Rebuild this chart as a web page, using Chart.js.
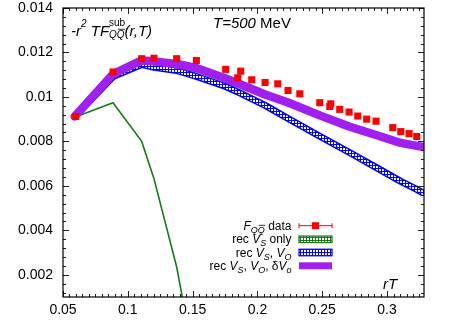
<!DOCTYPE html>
<html lang="en">
<head>
<meta charset="UTF-8">
<title>-r^2 T F_QQ sub, T=500 MeV</title>
<style>
  html, body { margin: 0; padding: 0; background: #fff; }
  #wrap { width: 469px; height: 328px; }
</style>
<script src="https://cdn.jsdelivr.net/npm/chart.js"></script>
</head>
<body>
<div id="wrap"><canvas id="chart" width="469" height="328"></canvas></div>
<script>
// lattice points F_QQbar
const rTData = [0.0598, 0.0886, 0.1107, 0.1202, 0.1377, 0.1529, 0.1755, 0.1848, 0.1871, 0.1956,
                0.2059, 0.2157, 0.2236, 0.2327, 0.2481, 0.2558, 0.2566, 0.2635, 0.2707, 0.2774,
                0.2843, 0.2915, 0.3044, 0.3106, 0.3170, 0.3229];
const fData  = [0.00912, 0.01112, 0.01172, 0.01174, 0.01172, 0.01164, 0.01124, 0.01086, 0.01116, 0.01077,
                0.01065, 0.01059, 0.01029, 0.01014, 0.00974, 0.00957, 0.00969, 0.00944, 0.00932, 0.00914,
                0.00900, 0.00891, 0.00862, 0.00844, 0.00835, 0.00822];

// reconstructed curves
const rTModel  = [0.059, 0.0886, 0.1107, 0.1202, 0.1377, 0.1529, 0.1755, 0.1871, 0.2059, 0.2236,
                  0.2481, 0.2707, 0.2915, 0.3106, 0.3229, 0.3285];
const recVsVoDv = [0.00912, 0.01103, 0.01164, 0.01160, 0.01148, 0.01130, 0.01083, 0.01056, 0.01011, 0.00975,
                   0.00917, 0.00867, 0.00829, 0.00793, 0.00780, 0.00775];
const recVsVo   = [0.00912, 0.01092, 0.01146, 0.01133, 0.01119, 0.01092, 0.01047, 0.01016, 0.00962, 0.00903,
                   0.00823, 0.00751, 0.00683, 0.00620, 0.00584, 0.00566];
const rTGreen   = [0.059, 0.0886, 0.1107, 0.1202, 0.1377, 0.1529];
const recVsOnly = [0.00909, 0.00974, 0.00800, 0.00632, 0.00235, -0.0024];

const xTicks = [0.05, 0.1, 0.15, 0.2, 0.25, 0.3];
const yTicks = [0.002, 0.004, 0.006, 0.008, 0.01, 0.012, 0.014];

const FONT = '"Liberation Sans", Arial, sans-serif';
const fmt = v => String(+v.toFixed(4));
const pts = (xs, ys) => xs.map((x, i) => ({ x: x, y: ys[i] }));

function hatch(color) {
  const c = document.createElement('canvas');
  c.width = 3; c.height = 3;
  const g = c.getContext('2d');
  g.fillStyle = '#fff'; g.fillRect(0, 0, 3, 3);
  g.fillStyle = color;
  g.fillRect(0, 0, 3, 1);
  g.fillRect(0, 0, 1, 3);
  return g.createPattern(c, 'repeat');
}
const blueHatch = hatch('#0000ff');
const greenHatch = hatch('#1a7a1a');

// text with italic / sub / superscript pieces
function rich(ctx, parts, x, y, align) {
  const widths = parts.map(p => {
    ctx.font = (p.i ? 'italic ' : '') + p.s + 'px ' + FONT;
    return ctx.measureText(p.t).width;
  });
  let total = 0;
  parts.forEach((p, k) => { if (!p.noAdv) total += widths[k]; });
  let cx = align === 'right' ? x - total : x;
  ctx.fillStyle = '#000';
  ctx.textBaseline = 'alphabetic';
  ctx.textAlign = 'left';
  parts.forEach((p, k) => {
    ctx.font = (p.i ? 'italic ' : '') + p.s + 'px ' + FONT;
    const yy = y + (p.dy || 0);
    ctx.fillText(p.t, cx, yy);
    if (p.bar) {
      ctx.strokeStyle = '#000'; ctx.lineWidth = 0.8;
      ctx.beginPath();
      ctx.moveTo(cx + 1, yy - p.s * 0.82);
      ctx.lineTo(cx + widths[k] + 0.5, yy - p.s * 0.82);
      ctx.stroke();
    }
    if (!p.noAdv) cx += widths[k];
  });
}

const decor = {
  id: 'decor',
  afterDraw(chart) {
    const ctx = chart.ctx;
    const a = chart.chartArea;
    const xs = chart.scales.x, ys = chart.scales.y;
    ctx.save();

    // inward ticks on all four sides
    ctx.strokeStyle = '#222';
    ctx.lineWidth = 1;
    ctx.beginPath();
    for (let k = 0; k <= 60; k++) {
      const v = 0.05 + k * 0.005;
      if (v > xs.max + 1e-9) break;
      const px = Math.round(xs.getPixelForValue(v)) + 0.5;
      const len = k % 10 === 0 ? 6 : 3;
      ctx.moveTo(px, a.bottom); ctx.lineTo(px, a.bottom - len);
      ctx.moveTo(px, a.top); ctx.lineTo(px, a.top + len);
    }
    for (let k = 3; k <= 35; k++) {
      const v = k * 0.0004;
      const py = Math.round(ys.getPixelForValue(v)) + 0.5;
      const len = k % 5 === 0 ? 6 : 3;
      ctx.moveTo(a.left, py); ctx.lineTo(a.left + len, py);
      ctx.moveTo(a.right, py); ctx.lineTo(a.right - len, py);
    }
    ctx.stroke();

    // frame
    ctx.strokeStyle = '#000';
    ctx.lineWidth = 1.2;
    ctx.strokeRect(a.left, a.top, a.right - a.left, a.bottom - a.top);

    // annotations
    rich(ctx, [
      { t: '-r', s: 15, i: true },
      { t: '2', s: 10, i: true, dy: -9 },
      { t: ' TF', s: 15, i: true },
      { t: 'sub', s: 10, dy: -10, noAdv: true },
      { t: 'Q', s: 10, i: true, dy: 2 },
      { t: 'Q', s: 10, i: true, dy: 2, bar: true },
      { t: '(r,T)', s: 15, i: true }
    ], 71, 35.5, 'left');
    rich(ctx, [
      { t: 'T=500', s: 15, i: true },
      { t: ' MeV', s: 15 }
    ], 213, 28, 'left');
    rich(ctx, [{ t: 'rT', s: 15, i: true }], 383, 289, 'left');

    // legend
    const lx = 291.5, s0 = 299, s1 = 332;
    const rows = [225.7, 239.3, 252.5, 265.8];
    rich(ctx, [
      { t: 'F', s: 12, i: true },
      { t: 'Q', s: 9, i: true, dy: 3 },
      { t: 'Q', s: 9, i: true, dy: 3, bar: true },
      { t: ' data', s: 12 }
    ], lx, rows[0] + 4, 'right');
    rich(ctx, [
      { t: 'rec ', s: 12 }, { t: 'V', s: 12, i: true }, { t: 'S', s: 9, i: true, dy: 3 },
      { t: ' only', s: 12 }
    ], lx, rows[1] + 4, 'right');
    rich(ctx, [
      { t: 'rec ', s: 12 }, { t: 'V', s: 12, i: true }, { t: 'S', s: 9, i: true, dy: 3 },
      { t: ', ', s: 12 }, { t: 'V', s: 12, i: true }, { t: 'O', s: 9, i: true, dy: 3 }
    ], lx, rows[2] + 4, 'right');
    rich(ctx, [
      { t: 'rec ', s: 12 }, { t: 'V', s: 12, i: true }, { t: 'S', s: 9, i: true, dy: 3 },
      { t: ', ', s: 12 }, { t: 'V', s: 12, i: true }, { t: 'O', s: 9, i: true, dy: 3 },
      { t: ', ', s: 12 }, { t: 'δ', s: 12 }, { t: 'V', s: 12, i: true }, { t: 'o', s: 9, i: true, dy: 3 }
    ], lx, rows[3] + 4, 'right');

    // legend samples
    ctx.strokeStyle = '#ff0000'; ctx.lineWidth = 1;
    ctx.beginPath();
    ctx.moveTo(s0, rows[0]); ctx.lineTo(s1, rows[0]);
    ctx.moveTo(s0, rows[0] - 2.5); ctx.lineTo(s0, rows[0] + 2.5);
    ctx.moveTo(s1, rows[0] - 2.5); ctx.lineTo(s1, rows[0] + 2.5);
    ctx.stroke();
    ctx.fillStyle = '#ff0000';
    ctx.fillRect((s0 + s1) / 2 - 3.5, rows[0] - 3.5, 7, 7);

    ctx.fillStyle = greenHatch; ctx.fillRect(s0, rows[1] - 3.3, s1 - s0, 6.6);
    ctx.strokeStyle = '#1a7a1a'; ctx.lineWidth = 1.2;
    ctx.strokeRect(s0, rows[1] - 3.3, s1 - s0, 6.6);
    ctx.fillStyle = blueHatch; ctx.fillRect(s0, rows[2] - 3.3, s1 - s0, 6.6);
    ctx.strokeStyle = '#0000ff';
    ctx.strokeRect(s0, rows[2] - 3.3, s1 - s0, 6.6);
    ctx.fillStyle = '#a020f0';
    ctx.fillRect(s0, rows[3] - 3.5, s1 - s0, 7);

    ctx.restore();
  }
};

new Chart(document.getElementById('chart'), {
  type: 'line',
  data: {
    datasets: [
      {
        label: 'F data',
        data: pts(rTData, fData),
        showLine: false,
        pointStyle: 'rect',
        pointRadius: 5,
        pointBackgroundColor: '#ff0000',
        pointBorderWidth: 0
      },
      {
        label: 'rec Vs, Vo, dVo',
        data: pts(rTModel, recVsVoDv),
        borderColor: '#a020f0',
        borderWidth: 8.5,
        borderJoinStyle: 'round',
        borderCapStyle: 'round',
        pointRadius: 0
      },
      {
        label: 'rec Vs, Vo (pattern)',
        data: pts(rTModel, recVsVo),
        borderColor: blueHatch,
        borderWidth: 4,
        borderJoinStyle: 'round',
        pointRadius: 0
      },
      {
        label: 'rec Vs, Vo',
        data: pts(rTModel, recVsVo),
        borderColor: '#0000ff',
        borderWidth: 7,
        borderJoinStyle: 'round',
        pointRadius: 0
      },
      {
        label: 'rec Vs only',
        data: pts(rTGreen, recVsOnly),
        borderColor: '#1a7a1a',
        borderWidth: 1.6,
        pointRadius: 0
      }
    ]
  },
  options: {
    responsive: false,
    animation: false,
    devicePixelRatio: 1,
    layout: { padding: { top: 0, right: 45, left: 0, bottom: 0 } },
    plugins: { legend: { display: false }, tooltip: { enabled: false } },
    scales: {
      x: {
        type: 'linear',
        min: 0.05,
        max: 0.3285,
        afterBuildTicks: s => { s.ticks = xTicks.map(v => ({ value: v })); },
        afterFit: s => { s.height = 31; s.paddingLeft = 0; s.paddingRight = 0; },
        grid: { display: false, drawTicks: false },
        border: { display: false },
        ticks: { autoSkip: false, maxRotation: 0, padding: 5, color: '#000',
                 font: { family: FONT, size: 14 }, callback: v => fmt(v) }
      },
      y: {
        type: 'linear',
        min: 0.001,
        max: 0.014,
        afterBuildTicks: s => { s.ticks = yTicks.map(v => ({ value: v })); },
        afterFit: s => { s.width = 63; s.paddingTop = 8; s.paddingBottom = 0; },
        grid: { display: false, drawTicks: false },
        border: { display: false },
        ticks: { autoSkip: false, padding: 10, color: '#000',
                 font: { family: FONT, size: 14 }, callback: v => fmt(v) }
      }
    }
  },
  plugins: [decor]
});
</script>
</body>
</html>
